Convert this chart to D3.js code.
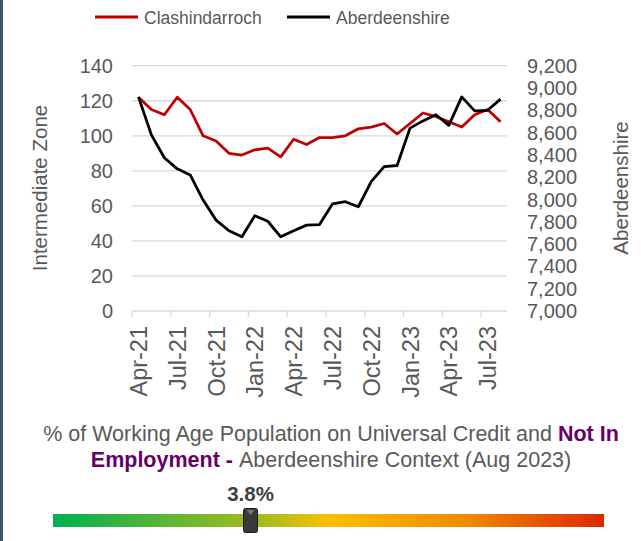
<!DOCTYPE html>
<html>
<head>
<meta charset="utf-8">
<script src="https://cdn.jsdelivr.net/npm/d3@7"></script>
<style>
  body { margin: 0; background: #fff; }
  svg { display: block; font-family: "Liberation Sans", Arial, sans-serif; }
</style>
</head>
<body>
<svg width="641" height="541"></svg>
<script>
// monthly series, Apr-21 .. Aug-23
var months = ['Apr-21','May-21','Jun-21','Jul-21','Aug-21','Sep-21','Oct-21','Nov-21','Dec-21',
    'Jan-22','Feb-22','Mar-22','Apr-22','May-22','Jun-22','Jul-22','Aug-22','Sep-22','Oct-22',
    'Nov-22','Dec-22','Jan-23','Feb-23','Mar-23','Apr-23','May-23','Jun-23','Jul-23','Aug-23'];

var clashindarroch = [122, 115, 112, 122, 115, 100, 97, 90, 89, 92, 93, 88, 98, 95, 99, 99, 100,
    104, 105, 107, 101, 107, 113, 111, 108, 105, 112, 115, 108];

var aberdeenshire = [8920, 8580, 8375, 8275, 8220, 7995, 7815, 7720, 7665, 7855, 7805, 7665, 7720,
    7770, 7775, 7960, 7980, 7935, 8160, 8295, 8305, 8640, 8705, 8760, 8665, 8920, 8795, 8800, 8900];

var leftTicks = [0, 20, 40, 60, 80, 100, 120, 140];
var rightTicks = [7000, 7200, 7400, 7600, 7800, 8000, 8200, 8400, 8600, 8800, 9000, 9200];

var indicatorValue = 3.8;   // % shown on the context bar
var indicatorMax = 10.6;    // assumed range of the bar

var svg = d3.select('svg');
var textGrey = '#595959';

// left frame strip
svg.append('rect').attr('x', 0).attr('y', 0).attr('width', 3).attr('height', 541).attr('fill', '#44546A');

var plot = {l: 132, r: 507, t: 65.7, b: 311};

var x = d3.scaleBand().domain(months).range([plot.l, plot.r]).padding(0);
var yL = d3.scaleLinear().domain([0, 140]).range([plot.b, plot.t]);
var yR = d3.scaleLinear().domain([7000, 9200]).range([plot.b, plot.t]);

// gridlines
svg.append('g')
    .selectAll('line')
    .data(leftTicks)
    .enter()
    .append('line')
    .attr('x1', plot.l).attr('x2', plot.r)
    .attr('y1', function(d) { return yL(d); })
    .attr('y2', function(d) { return yL(d); })
    .attr('stroke', '#D9D9D9')
    .attr('stroke-width', 1.3);

// x tick marks at category boundaries every 3 months
var tickIdx = d3.range(0, months.length, 3);
svg.append('g')
    .selectAll('line')
    .data(tickIdx)
    .enter()
    .append('line')
    .attr('x1', function(i) { return plot.l + i * x.step(); })
    .attr('x2', function(i) { return plot.l + i * x.step(); })
    .attr('y1', plot.b).attr('y2', plot.b + 6)
    .attr('stroke', '#D9D9D9')
    .attr('stroke-width', 1.3);

// x labels
svg.append('g')
    .selectAll('text')
    .data(months.filter(function(m, i) { return i % 3 == 0; }))
    .enter()
    .append('text')
    .attr('transform', function(m) {
        return 'translate(' + [x(m) + x.bandwidth() / 2 + 8.5, plot.b + 15] + ') rotate(-90)';
    })
    .attr('text-anchor', 'end')
    .attr('font-size', 23.5)
    .attr('fill', textGrey)
    .text(function(m) { return m; });

// left axis labels
svg.append('g')
    .selectAll('text')
    .data(leftTicks)
    .enter()
    .append('text')
    .attr('x', 113)
    .attr('y', function(d) { return yL(d) + 7; })
    .attr('text-anchor', 'end')
    .attr('font-size', 20)
    .attr('fill', textGrey)
    .text(function(d) { return d; });

// right axis labels
var fmt = d3.format(',');
svg.append('g')
    .selectAll('text')
    .data(rightTicks)
    .enter()
    .append('text')
    .attr('x', 527)
    .attr('y', function(d) { return yR(d) + 7; })
    .attr('font-size', 20)
    .attr('fill', textGrey)
    .text(function(d) { return fmt(d); });

// axis titles
svg.append('text')
    .attr('transform', 'translate(47,188) rotate(-90)')
    .attr('text-anchor', 'middle')
    .attr('font-size', 20.5)
    .attr('fill', textGrey)
    .text('Intermediate Zone');

svg.append('text')
    .attr('transform', 'translate(628,188) rotate(-90)')
    .attr('text-anchor', 'middle')
    .attr('font-size', 20.5)
    .attr('fill', textGrey)
    .text('Aberdeenshire');

// lines
var cx = function(d, i) { return x(months[i]) + x.bandwidth() / 2; };

svg.append('path')
    .datum(clashindarroch)
    .attr('fill', 'none')
    .attr('stroke', '#C00000')
    .attr('stroke-width', 2.8)
    .attr('stroke-linejoin', 'round')
    .attr('d', d3.line().x(cx).y(function(d) { return yL(d); }));

svg.append('path')
    .datum(aberdeenshire)
    .attr('fill', 'none')
    .attr('stroke', '#000000')
    .attr('stroke-width', 2.8)
    .attr('stroke-linejoin', 'round')
    .attr('d', d3.line().x(cx).y(function(d) { return yR(d); }));

// legend
var legend = [
    {name: 'Clashindarroch', color: '#C00000', x: 95},
    {name: 'Aberdeenshire', color: '#000000', x: 287}
];
var lg = svg.append('g')
    .selectAll('g')
    .data(legend)
    .enter()
    .append('g')
    .attr('transform', function(d) { return 'translate(' + [d.x, 17] + ')'; });
lg.append('line')
    .attr('x1', 0).attr('x2', 43)
    .attr('stroke', function(d) { return d.color; })
    .attr('stroke-width', 3);
lg.append('text')
    .attr('x', 49).attr('y', 6.5)
    .attr('font-size', 17.5)
    .attr('fill', textGrey)
    .text(function(d) { return d.name; });

// context caption
var purple = '#660066';
var cap1 = svg.append('text')
    .attr('x', 331).attr('y', 441)
    .attr('text-anchor', 'middle')
    .attr('font-size', 21.5)
    .attr('fill', textGrey);
cap1.append('tspan').text('% of Working Age Population on Universal Credit and ');
cap1.append('tspan').attr('font-weight', 'bold').attr('fill', purple).text('Not In');

var cap2 = svg.append('text')
    .attr('x', 331).attr('y', 467)
    .attr('text-anchor', 'middle')
    .attr('font-size', 21.5)
    .attr('fill', textGrey);
cap2.append('tspan').attr('font-weight', 'bold').attr('fill', purple).text('Employment - ');
cap2.append('tspan').text('Aberdeenshire Context (Aug 2023)');

// gradient bar
var defs = svg.append('defs');
var grad = defs.append('linearGradient').attr('id', 'ctx');
[['0%', '#00B050'], ['40%', '#B0BC1A'], ['50%', '#FFC000'], ['75%', '#F08A00'], ['100%', '#DC2800']]
    .forEach(function(s) {
        grad.append('stop').attr('offset', s[0]).attr('stop-color', s[1]);
    });

var barX = d3.scaleLinear().domain([0, indicatorMax]).range([53, 604]);
svg.append('rect')
    .attr('x', barX(0)).attr('y', 514)
    .attr('width', barX(indicatorMax) - barX(0)).attr('height', 13)
    .attr('fill', 'url(#ctx)');

var mx = barX(indicatorValue);
svg.append('rect')
    .attr('x', mx - 7).attr('y', 508.5)
    .attr('width', 14).attr('height', 24)
    .attr('rx', 2)
    .attr('fill', '#3A3A3A')
    .attr('stroke', '#1a1a1a')
    .attr('stroke-width', 1);
svg.append('path')
    .attr('d', 'M' + (mx - 4) + ',510 L' + (mx + 4) + ',510 L' + mx + ',515 Z')
    .attr('fill', '#777');

svg.append('text')
    .attr('x', mx).attr('y', 501)
    .attr('text-anchor', 'middle')
    .attr('font-size', 20.5)
    .attr('font-weight', 'bold')
    .attr('fill', '#404040')
    .text(indicatorValue + '%');
</script>
</body>
</html>
